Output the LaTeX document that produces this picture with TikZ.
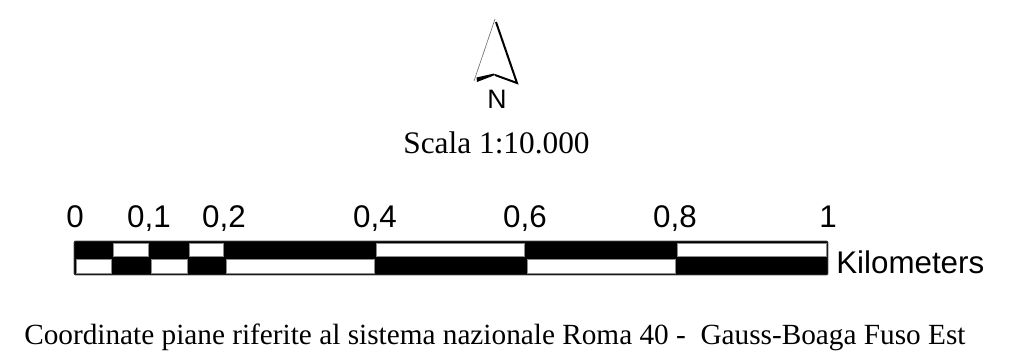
\documentclass[tikz,border=0pt]{standalone}
\usepackage{fontspec}
\setmainfont{Liberation Serif}
\newfontfamily\arialf{Liberation Sans}
\tikzset{
  px/.style={x=0.75pt,y=-0.75pt},
  whitecell/.style={fill=white,draw=black!45,line width=0.6pt},
  tick/.style={font=\arialf\fontsize{23.5}{26}\selectfont,inner sep=0pt,anchor=base},
  serif/.style={font=\fontsize{23.5}{26}\selectfont,inner sep=0pt,anchor=base}
}
\begin{document}
\begin{tikzpicture}[px]
\useasboundingbox (0,0) rectangle (1023,362);
% north arrow
\coordinate (apex) at (495,19);
\coordinate (apexr) at (496,22);
\coordinate (bl) at (474,81);
\coordinate (br) at (517,83);
\coordinate (notch) at (495,75);
\coordinate (bl2) at (477,82);
\draw[black!55,line width=0.5pt] (apex) -- (bl);
\draw[black,line width=1.5pt] (apexr) -- (br) -- (notch);
\fill[black] (notch) -- (bl2) -- (476.5,77.5) -- (494,73.5) -- cycle;
\node[font=\arialf\fontsize{20}{24}\selectfont,inner sep=0pt,anchor=base] (n) at (497,108) {N};
\node[serif] (scala) at (496.5,153) {Scala 1:10.000};
% bar
\fill[black] (74,241) rectangle (828,275);
\draw[black!70,line width=0.6pt,rounded corners=1pt] (74,241) rectangle (828,275);
\foreach \a/\b in {113/148,189/223,376.5/524,677/826}
  \draw[whitecell] (\a,243) rectangle (\b,256.5);
\foreach \a/\b in {76/111,151/187,226/374,527/675}
  \draw[whitecell] (\a,259.5) rectangle (\b,273);
% labels
\node[tick] (t0) at (75,227) {0};
\node[tick] (t1) at (149,227) {0,1};
\node[tick] (t2) at (224,227) {0,2};
\node[tick] (t4) at (375,227) {0,4};
\node[tick] (t6) at (525,227) {0,6};
\node[tick] (t8) at (675,227) {0,8};
\node[tick] (t10) at (828,227) {1};
\node[tick,anchor=base west] (km) at (836,273) {Kilometers};
\node[font=\fontsize{21.95}{26}\selectfont,inner sep=0pt,anchor=base west] (coord) at (24,344) {Coordinate piane riferite al sistema nazionale Roma 40 -\ \ Gauss-Boaga Fuso Est};
\end{tikzpicture}
\end{document}
